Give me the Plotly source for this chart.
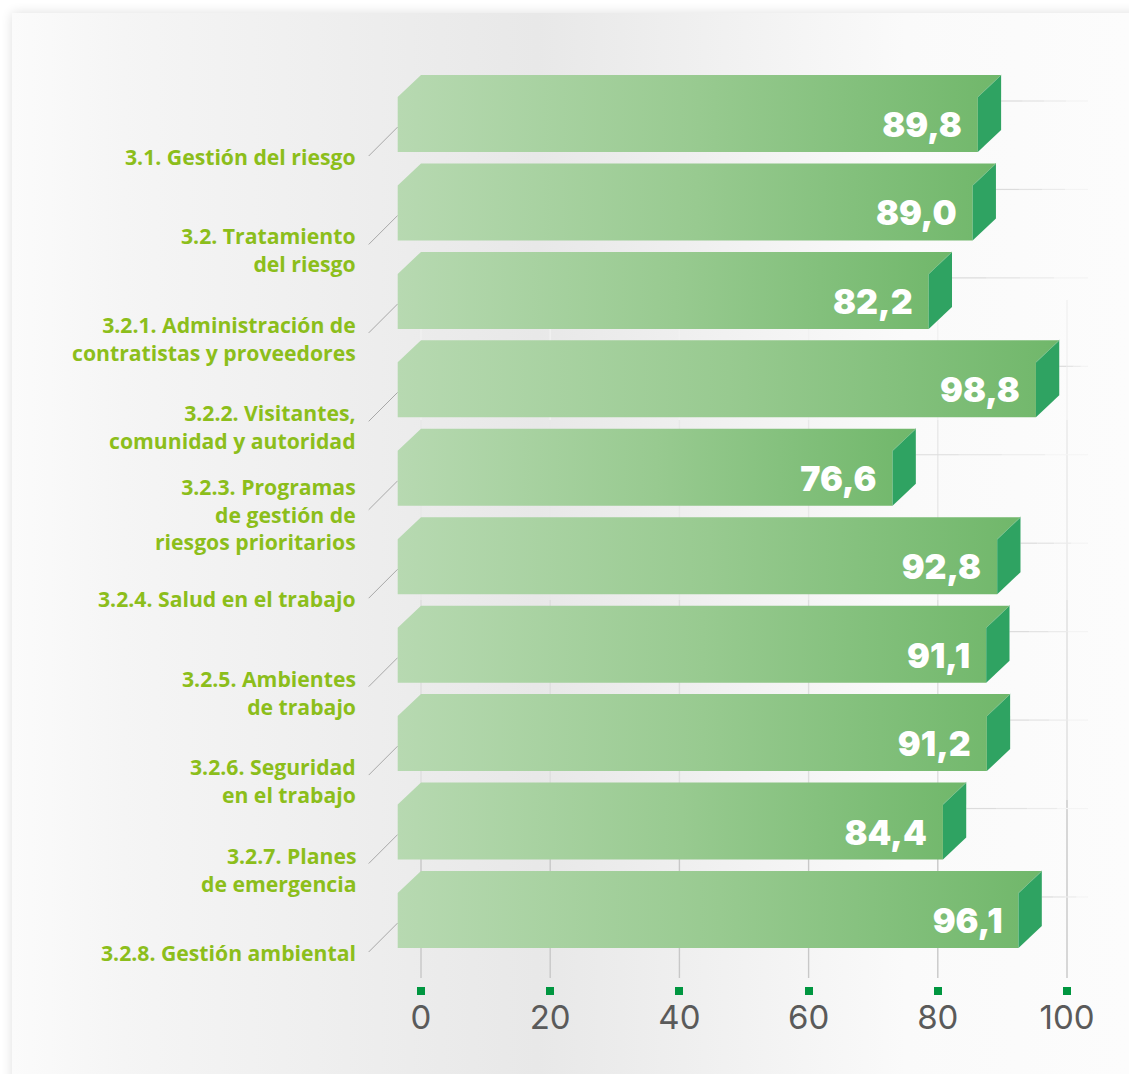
import base64
import plotly.graph_objects as go

categories = ["3.1. Gestión del riesgo", "3.2. Tratamiento<br>del riesgo",
              "3.2.1. Administración de<br>contratistas y proveedores",
              "3.2.2. Visitantes,<br>comunidad y autoridad",
              "3.2.3. Programas<br>de gestión de<br>riesgos prioritarios",
              "3.2.4. Salud en el trabajo", "3.2.5. Ambientes<br>de trabajo",
              "3.2.6. Seguridad<br>en el trabajo", "3.2.7. Planes<br>de emergencia",
              "3.2.8. Gestión ambiental"]
values = [89.8, 89.0, 82.2, 98.8, 76.6, 92.8, 91.1, 91.2, 84.4, 96.1]
value_labels = ["89,8", "89,0", "82,2", "98,8", "76,6", "92,8", "91,1", "91,2", "84,4", "96,1"]
ticks = [0, 20, 40, 60, 80, 100]

W, H, BOTTOM = 1129, 1074, 88
PX_X = 6.46
X0_PX = 421.0
PX_Y = 88.44
Y0_PX = 124.5
xr = [(0 - X0_PX) / PX_X, (W - X0_PX) / PX_X]
yr = [(H - BOTTOM - Y0_PX) / PX_Y, (0 - Y0_PX) / PX_Y]
dx = 23.3 / PX_X
dy = 22.0 / PX_Y
hh = 27.5 / PX_Y
bar_left = -dx
FACE = [[0, "#b7d9b1"], [0.5, "#98ca90"], [1, "#70b76a"]]
SIDE = "#2fa362"
GREEN = "#8cbe1b"

svg = f'''<svg xmlns="http://www.w3.org/2000/svg" width="{W}" height="{H}" viewBox="0 0 {W} {H}">
<defs><linearGradient id="g" x1="12" x2="{W}" y1="0" y2="0" gradientUnits="userSpaceOnUse">
<stop offset="0" stop-color="#fbfbfb"/><stop offset="0.1" stop-color="#f5f5f5"/><stop offset="0.47" stop-color="#e8e8e8"/>
<stop offset="0.62" stop-color="#f0f0f0"/><stop offset="0.8" stop-color="#fafafa"/><stop offset="1" stop-color="#fcfcfc"/></linearGradient>
<filter id="s" x="-5%" y="-5%" width="110%" height="110%"><feGaussianBlur stdDeviation="6"/></filter></defs>
<rect width="{W}" height="{H}" fill="#ffffff"/>
<rect x="12" y="13" width="{W}" height="{H}" fill="#000000" opacity="0.13" filter="url(#s)"/>
<rect x="12" y="13" width="{W}" height="{H}" fill="url(#g)"/></svg>'''
bg = "data:image/svg+xml;base64," + base64.b64encode(svg.encode()).decode()

fig = go.Figure()

def y_of(px):
    return (px - Y0_PX) / PX_Y

# vertical grid lines (fade in towards the axis)
grid_segments = [(300, 420, "#f1f1f1"), (420, 600, "#e8e8e8"), (600, 800, "#dedede"), (800, 978, "#c8c8c8")]
for t in ticks:
    for a, b, c in grid_segments:
        fig.add_trace(go.Scatter(x=[t, t], y=[y_of(a), y_of(b)], mode="lines",
                                 line=dict(color=c, width=1.4), hoverinfo="skip", showlegend=False))

# horizontal guide lines fading out to the right
x_end = (1088 - X0_PX) / PX_X
for i, v in enumerate(values):
    y = i - 23.5 / PX_Y
    n = 4
    for k, c in enumerate(["#dcdcdc", "#e3e3e3", "#ebebeb", "#f4f4f4"]):
        xa = v + (x_end - v) * k / n
        xb = v + (x_end - v) * (k + 1) / n
        fig.add_trace(go.Scatter(x=[xa, xb], y=[y, y], mode="lines", line=dict(color=c, width=1.2),
                                 hoverinfo="skip", showlegend=False))

for i, v in enumerate(values):
    right = v - dx
    # leader
    fig.add_trace(go.Scatter(x=[bar_left - 29 / PX_X, bar_left], y=[i + hh + 4 / PX_Y, i + hh - 25 / PX_Y],
                             mode="lines", line=dict(color="#a8a8a8", width=1), hoverinfo="skip", showlegend=False))
    # front and top faces as one silhouette
    fig.add_trace(go.Scatter(x=[bar_left, bar_left, 0, v, right, right, bar_left],
                             y=[i + hh, i - hh, i - hh - dy, i - hh - dy, i - hh, i + hh, i + hh],
                             mode="lines", line=dict(width=0), fill="toself",
                             fillgradient=dict(type="horizontal", colorscale=FACE),
                             hoverinfo="skip", showlegend=False))
    # side face
    fig.add_trace(go.Scatter(x=[right, v, v, right, right],
                             y=[i - hh, i - hh - dy, i + hh - dy, i + hh, i - hh],
                             mode="lines", line=dict(width=0), fill="toself", fillcolor=SIDE,
                             hoverinfo="skip", showlegend=False))
    # light edge between top and side
    fig.add_trace(go.Scatter(x=[right, v], y=[i - hh, i - hh - dy], mode="lines",
                             line=dict(color="#7cc08a", width=1), hoverinfo="skip", showlegend=False))

fig.add_trace(go.Scatter(x=[v - dx - 16 / PX_X for v in values], y=[i + 4 / PX_Y for i in range(len(values))],
                         mode="text", text=value_labels, textposition="middle left",
                         textfont=dict(family="Inter", size=34, color="#ffffff", weight=900),
                         hoverinfo="skip", showlegend=False))

offset = {1: 32, 2: 37, 3: 35.5}
annotations = []
for i, c in enumerate(categories):
    lines = c.count("<br>") + 1
    annotations.append(dict(x=(358 - X0_PX) / PX_X, y=i + offset[lines] / PX_Y, text=c, xref="x", yref="y",
                            xanchor="right", yanchor="middle", align="right", showarrow=False,
                            font=dict(family="Open Sans", size=21.2, color=GREEN, weight=700)))

fig.update_layout(
    width=W, height=H, margin=dict(l=0, r=0, t=0, b=BOTTOM),
    paper_bgcolor="#ffffff", plot_bgcolor="rgba(0,0,0,0)", showlegend=False,
    annotations=annotations,
    images=[dict(source=bg, xref="paper", yref="paper", x=0, y=1, sizex=1, sizey=H / (H - BOTTOM),
                 xanchor="left", yanchor="top", sizing="stretch", layer="below")],
    xaxis=dict(range=xr, domain=[0, 1], tickmode="array", tickvals=ticks, ticktext=[str(t) for t in ticks],
               ticks="outside", ticklen=8, tickwidth=8, tickcolor="#009640", showgrid=False, showline=False,
               zeroline=False, ticklabelstandoff=-6,
               tickfont=dict(family="Inter", size=33, color="#5a5a5a", weight=400)),
    yaxis=dict(range=yr, domain=[0, 1], visible=False),
)
fig.write_html("out.html", config={"displayModeBar": False},
               post_script="document.body.style.margin='0';document.body.style.overflow='hidden';")
